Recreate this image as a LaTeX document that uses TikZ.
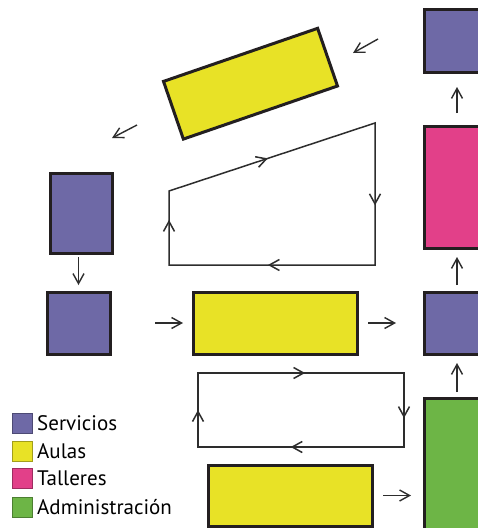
\documentclass[tikz,border=0pt]{standalone}
\usepackage{fontspec}
\setmainfont{PT Sans}
\usetikzlibrary{arrows.meta,decorations.markings,calc}
\definecolor{serv}{RGB}{110,105,166}
\definecolor{aula}{RGB}{232,226,38}
\definecolor{tall}{RGB}{226,64,137}
\definecolor{admi}{RGB}{109,181,70}
\definecolor{edge}{RGB}{35,31,32}
\definecolor{lineg}{RGB}{45,45,45}
\tikzset{
  block/.style={draw=edge,line width=3pt,inner sep=0pt,outer sep=0pt},
  bserv/.style={block,fill=serv},
  baula/.style={block,fill=aula},
  btall/.style={block,fill=tall},
  badmi/.style={block,fill=admi},
  arr/.style={draw=lineg,line width=1.4pt,-{Straight Barb[length=10pt,width=11pt,line width=1.4pt]}},
  loopline/.style={draw=lineg,line width=1.5pt,line join=miter},
  midarrow/.style={postaction={decorate,decoration={markings,
     mark=at position #1 with {\arrow[lineg,line width=1.5pt]{Straight Barb[length=10pt,width=11pt]}}}}},
  legsq/.style={minimum width=20pt,minimum height=20pt,inner sep=0pt,line width=0.8pt},
  legtx/.style={anchor=west,inner sep=0pt,font=\fontsize{21}{24}\selectfont}
}
\begin{document}
\begin{tikzpicture}[x=1pt,y=-1pt]
\useasboundingbox (0,0) rectangle (478,528);
\fill[white] (0,0) rectangle (478,528);
% right column
\node[bserv,minimum width=66pt,minimum height=63pt] (tp) at (457,40.5) {};
\node[btall,minimum width=66pt,minimum height=122pt] (mg) at (457,187) {};
\node[bserv,minimum width=66pt,minimum height=62pt] (rp) at (457,323) {};
\node[badmi,minimum width=66pt,minimum height=142pt] (gr) at (457,469) {};
\draw[arr,shorten <=13pt,shorten >=15pt] (mg.north) -- (tp.south);
\draw[arr,shorten <=7pt,shorten >=9pt] (rp.north) -- (mg.south);
\draw[arr,shorten <=6pt,shorten >=9pt] (gr.north) -- (rp.south);
% middle
\node[baula,minimum width=164pt,minimum height=62pt] (my) at (275,323) {};
\node[baula,minimum width=164pt,minimum height=61pt] (yb) at (290,495.5) {};
\node[baula,minimum width=163pt,minimum height=61pt,rotate=19] (yr) at (250.5,83.7) {};
% left
\node[bserv,minimum width=62pt,minimum height=80pt] (lu) at (81,213) {};
\node[bserv,minimum width=63pt,minimum height=62pt] (ls) at (78.5,323) {};
\draw[arr,shorten <=4pt,shorten >=7pt] (lu.south -| ls.north) -- (ls.north);
\draw[arr,shorten <=45pt,shorten >=10pt] (ls.east) -- (my.west);
\draw[arr,shorten <=11pt,shorten >=28pt] (my.east) -- (rp.west);
\draw[arr,shorten <=11pt,shorten >=13pt] (yb.east) -- (yb.east -| gr.west);
% free arrows near rotated block
\coordinate (a1s) at (378,39);
\coordinate (a1e) at (353,53);
\coordinate (a2s) at (137,125);
\coordinate (a2e) at (112,138);
\draw[arr] (a1s) -- (a1e);
\draw[arr] (a2s) -- (a2e);
% upper loop
\coordinate (u1) at (169,191);
\coordinate (u2) at (375,123);
\coordinate (u3) at (375,265);
\coordinate (u4) at (169,265);
\draw[loopline] (u1) -- (u2) -- (u3) -- (u4) -- cycle;
\path[midarrow=0.48] (u1) -- (u2);
\path[midarrow=0.58] (u2) -- (u3);
\path[midarrow=0.52] (u3) -- (u4);
\path[midarrow=0.61] (u4) -- (u1);
% lower loop
\coordinate (l1) at (198,373);
\coordinate (l2) at (404,373);
\coordinate (l3) at (404,447);
\coordinate (l4) at (198,447);
\draw[loopline] (l1) -- (l2) -- (l3) -- (l4) -- cycle;
\path[midarrow=0.52] (l1) -- (l2);
\path[midarrow=0.61] (l2) -- (l3);
\path[midarrow=0.55] (l3) -- (l4);
\path[midarrow=0.50] (l4) -- (l1);
% legend
\node[legsq,fill=serv,draw=serv!70!black] (k1) at (22,423.5) {};
\node[legsq,fill=aula,draw=aula!70!black] (k2) at (22,451) {};
\node[legsq,fill=tall,draw=tall!70!black] (k3) at (22,478) {};
\node[legsq,fill=admi,draw=admi!70!black] (k4) at (22,507) {};
\node[legtx] (t1) at (37,423.5) {Servicios};
\node[legtx] (t2) at (37,451) {Aulas};
\node[legtx] (t3) at (37,478) {Talleres};
\node[legtx] (t4) at (37,507) {Administración};
\end{tikzpicture}
\end{document}
